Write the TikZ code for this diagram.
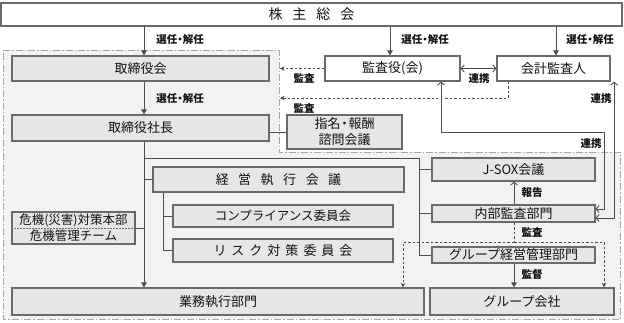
\documentclass[tikz,border=0pt]{standalone}
\usepackage{fontspec}
\setmainfont{Noto Sans CJK JP}
\usetikzlibrary{arrows.meta}
\definecolor{boxfill}{HTML}{E6E6E6}
\definecolor{regfill}{HTML}{F2F2F2}
\definecolor{boxline}{HTML}{6A6A6A}
\definecolor{conn}{HTML}{4D4D4D}
\definecolor{txt}{HTML}{111111}
\definecolor{regline}{HTML}{A6A6A6}
\newcommand{\ndot}{\kern-2.5pt・\kern-2.5pt}
\begin{document}
\begin{tikzpicture}[x=1pt,y=-1pt,
  box/.style={draw=boxline, line width=1.2pt, fill=boxfill, inner sep=0pt,
    font=\fontsize{13}{16}\selectfont, text=txt, align=center},
  wbox/.style={box, fill=white},
  lab/.style={font=\fontsize{10.5}{12}\selectfont\bfseries, text=txt, inner sep=0pt},
  conline/.style={draw=conn, line width=0.9pt},
  farrow/.style={conline, -{Triangle[length=5pt,width=5.5pt]}},
  oarrow/.style={conline, {Straight Barb[length=3pt,width=7pt]}-{Straight Barb[length=3pt,width=7pt]}},
  oarrowend/.style={conline, -{Straight Barb[length=3pt,width=7pt]}},
  dotline/.style={draw=conn, line width=0.9pt, dash pattern=on 2.5pt off 2pt},
  dotarrow/.style={dotline, -{Stealth[length=4.5pt,width=4.5pt]}},
  region/.style={draw=regline, fill=regfill, line width=0.8pt,
    dash pattern=on 7pt off 2pt on 1.5pt off 2pt}
]
\useasboundingbox (0,0) rectangle (624,322);
% region
\path[region] (3,50) -- (279,50) -- (279,152) -- (620,152) -- (620,319) -- (3,319) -- cycle;

% nodes
\node[wbox, minimum width=621pt, minimum height=23pt, font=\fontsize{14}{16}\selectfont] (sh) at (311.5,14.5)
  {株\hspace{10pt}主\hspace{10pt}総\hspace{10pt}会};
\node[box, minimum width=257pt, minimum height=25pt] (bod) at (140.5,68.5) {取締役会};
\node[box, minimum width=257pt, minimum height=26pt] (pres) at (140.5,128) {取締役社長};
\node[box, minimum width=115pt, minimum height=34pt] (nom) at (344.5,132) {指名\ndot 報酬\\諮問会議};
\node[wbox, minimum width=135pt, minimum height=25pt] (aud) at (392.5,68.5) {監査役(会)};
\node[wbox, minimum width=113pt, minimum height=25pt] (acc) at (553.5,68.5) {会計監査人};
\node[box, minimum width=251pt, minimum height=25pt] (exe) at (278.5,179.5)
  {経\hspace{9.5pt}営\hspace{9.5pt}執\hspace{9.5pt}行\hspace{9.5pt}会\hspace{9.5pt}議};
\node[box, minimum width=220pt, minimum height=22pt, font=\fontsize{12.5}{15}\selectfont] (comp) at (283,216) {コンプライアンス委員会};
\node[box, minimum width=220pt, minimum height=23pt] (risk) at (283,250.5)
  {リ\hspace{5pt}ス\hspace{5pt}ク\hspace{5pt}対\hspace{5pt}策\hspace{5pt}委\hspace{5pt}員\hspace{5pt}会};
\node[box, minimum width=123pt, minimum height=32pt, font=\fontsize{12.5}{16}\selectfont] (cri) at (73.5,228)
  {危機(災害)対策本部\\危機管理チーム};
\node[box, minimum width=412pt, minimum height=27pt] (ops) at (218,301.5) {業務執行部門};
\node[box, minimum width=163pt, minimum height=23pt] (jsox) at (513.5,169.5) {J-SOX会議};
\node[box, minimum width=163pt, minimum height=17pt] (ia) at (513.5,213.5) {内部監査部門};
\node[box, minimum width=163pt, minimum height=16pt] (gm) at (513.5,255) {グループ経営管理部門};
\node[box, minimum width=184pt, minimum height=27pt] (gc) at (522,301.5) {グループ会社};

% divider in crisis box
\draw[draw=boxline, line width=0.7pt, dash pattern=on 1.5pt off 1.5pt] (cri.west) -- (cri.east);

% coordinates
\coordinate (bodaud) at (280,68.5);
\coordinate (bodacc) at (280,98);
\coordinate (accd) at (508,98);
\coordinate (spinej) at (144,158);
\coordinate (rspine) at (419,158);
\coordinate (iad) at (514,242);
\coordinate (dl) at (403,242);
\coordinate (dr) at (604,242);

% arrows from shareholders
\draw[farrow] (sh.south -| 144,0) -- (bod.north -| 144,0);
\draw[farrow] (bod.south -| 144,0) -- (pres.north -| 144,0);
\draw[farrow] (sh.south -| 390,0) -- (aud.north -| 390,0);
\draw[farrow] (sh.south -| 556,0) -- (acc.north -| 556,0);
\node[lab] (l1) at (180,40) {選任\ndot 解任};
\node[lab] (l2) at (180,99) {選任\ndot 解任};
\node[lab] (l3) at (425,40) {選任\ndot 解任};
\node[lab] (l4) at (590,40) {選任\ndot 解任};

% audit dotted lines
\draw[dotarrow] (aud.west) -- (bodaud);
\node[lab] (l5) at (304,78) {監査};
\draw[dotarrow] (acc.south -| accd) -- (accd) -- (bodacc);
\node[lab] (l6) at (304,108) {監査};
\draw[white, line width=7pt] (441,94) -- (441,102);

% cooperation
\draw[oarrow] (aud.east) -- (acc.west);
\node[lab] (l7) at (479,79) {連携};
\draw[oarrow] (aud.south -| 441,0) -- (441,132) -- (604,132) -- (604,209) -- (ia.east |- 0,209);
\node[lab] (l8) at (591,144) {連携};
\draw[oarrow] (acc.south -| 614,0) -- (614,218) -- (ia.east |- 0,218);
\node[lab] (l9) at (601,99) {連携};

% president links
\draw[conline] (pres.east |- nom.west) -- (nom.west);
\draw[farrow] (pres.south -| 144,0) -- (ops.north -| 144,0);
\draw[conline] (spinej) -- (rspine) -- (rspine |- gm.west) -- (gm.west);
\draw[conline] (rspine |- jsox.west) -- (jsox.west);
\draw[conline] (rspine |- ia.west) -- (ia.west);
\draw[conline] (144,0 |- exe.west) -- (exe.west);
\draw[conline] (exe.south -| 163,0) -- (163,0 |- risk.west) -- (risk.west);
\draw[conline] (163,0 |- comp.west) -- (comp.west);
\draw[conline] (cri.east) -- (144,0 |- cri.east);

% internal audit
\draw[oarrowend] (ia.north -| 514,0) -- (jsox.south -| 514,0);
\node[lab] (l10) at (532,193) {報告};
\draw[dotline] (ia.south -| iad) -- (iad);
\draw[dotarrow] (iad) -- (dl) -- (ops.north -| dl);
\draw[dotarrow] (iad) -- (dr) -- (gc.north -| dr);
\node[lab] (l11) at (532,232) {監査};
\draw[farrow] (gm.south -| 514,0) -- (gc.north -| 514,0);
\node[lab] (l12) at (532,275) {監督};
\end{tikzpicture}
\end{document}
